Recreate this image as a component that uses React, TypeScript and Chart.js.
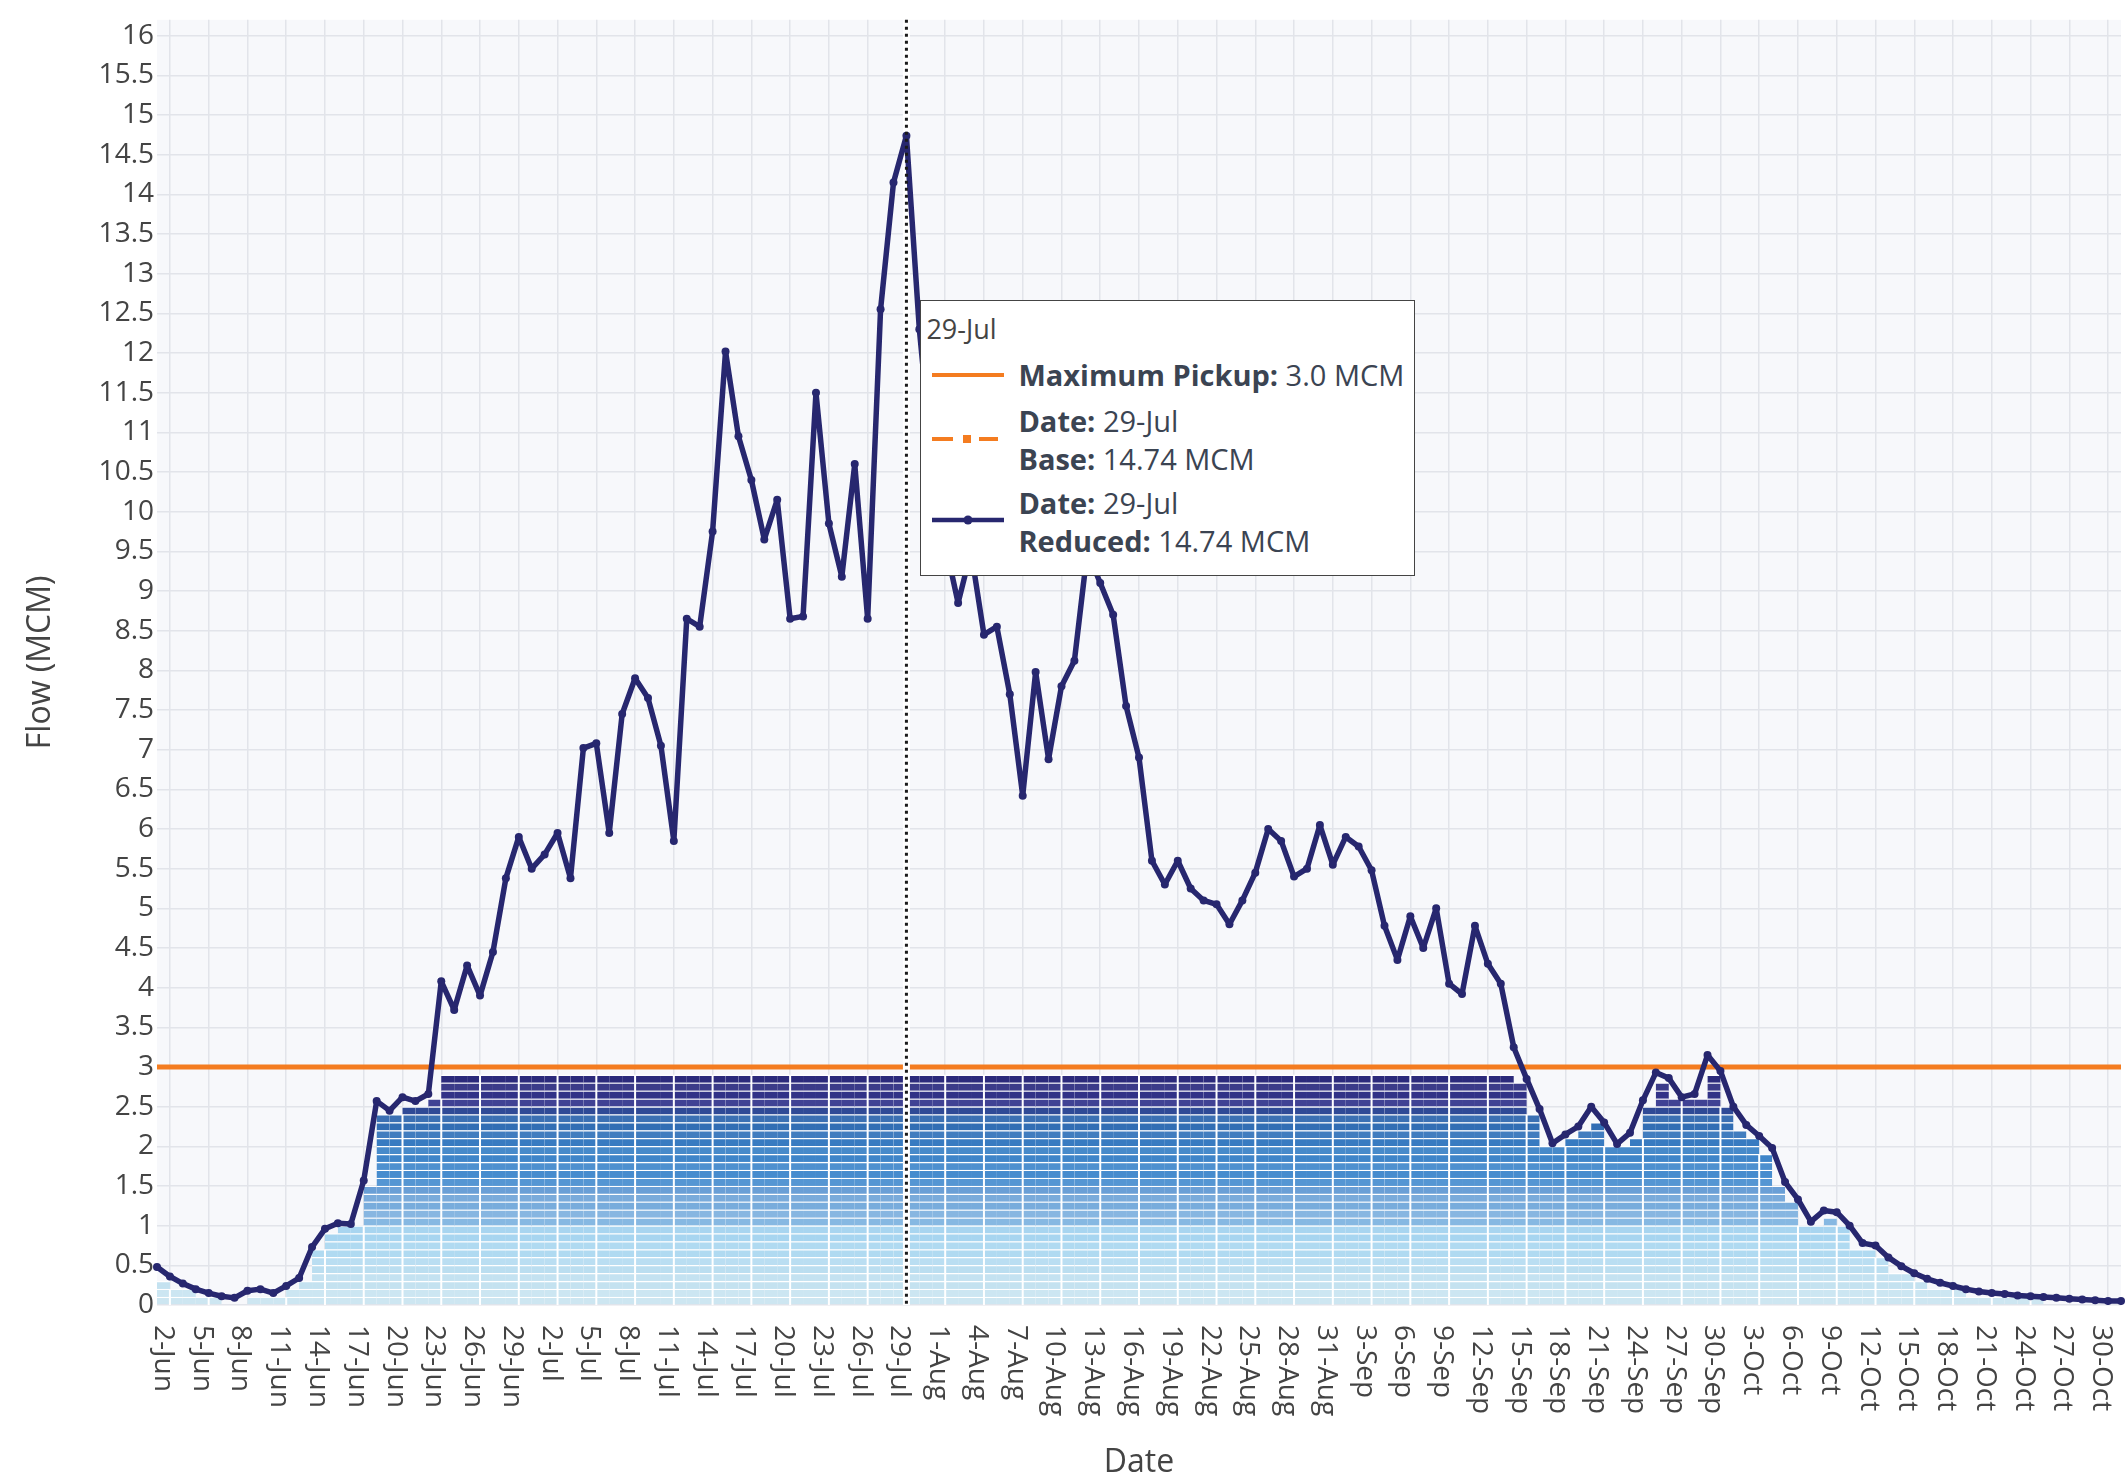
import React, { useEffect, useRef } from 'react';
import { Chart, registerables } from 'chart.js';

Chart.register(...registerables);

// ---------- DATA ----------
const months: [string, number][] = [
  ['Jun', 30],
  ['Jul', 31],
  ['Aug', 31],
  ['Sep', 30],
  ['Oct', 31],
];
const dates: string[] = [];
for (const [m, n] of months) for (let d = 1; d <= n; d++) dates.push(`${d}-${m}`);
// daily intervals used by the pickup bars (start date of each interval)
const intervalLabels: string[] = dates.slice(0, -1);

// Reduced flow (MCM), 1-Jun .. 31-Oct
const reducedFlow: number[] = [
  0.48, 0.36, 0.27, 0.2, 0.15, 0.11, 0.09, 0.18, 0.2, 0.15,
  0.24, 0.34, 0.73, 0.96, 1.03, 1.02, 1.57, 2.57, 2.45, 2.62,
  2.57, 2.66, 4.08, 3.72, 4.28, 3.9, 4.45, 5.38, 5.9, 5.5,
  5.68, 5.95, 5.38, 7.02, 7.08, 5.95, 7.45, 7.9, 7.65, 7.05,
  5.85, 8.65, 8.55, 9.75, 12.02, 10.95, 10.4, 9.65, 10.15, 8.65,
  8.68, 11.5, 9.85, 9.18, 10.6, 8.65, 12.55, 14.15, 14.74, 12.3,
  10.6, 9.6, 8.85, 9.5, 8.45, 8.55, 7.7, 6.42, 7.98, 6.88,
  7.8, 8.12, 9.5, 9.1, 8.7, 7.55, 6.9, 5.6, 5.3, 5.6,
  5.25, 5.1, 5.05, 4.8, 5.1, 5.45, 6.0, 5.85, 5.4, 5.5,
  6.05, 5.55, 5.9, 5.78, 5.48, 4.78, 4.35, 4.9, 4.5, 5.0,
  4.05, 3.92, 4.78, 4.3, 4.05, 3.25, 2.85, 2.47, 2.04, 2.15,
  2.25, 2.5, 2.3, 2.03, 2.17, 2.58, 2.93, 2.86, 2.62, 2.66,
  3.15, 2.95, 2.5, 2.27, 2.13, 1.98, 1.55, 1.33, 1.05, 1.19,
  1.17, 1.0, 0.78, 0.75, 0.6, 0.49, 0.4, 0.33, 0.28, 0.24,
  0.2, 0.17, 0.15, 0.14, 0.12, 0.11, 0.1, 0.09, 0.08, 0.07,
  0.06, 0.05, 0.05,
];
// Base flow coincides with the reduced flow on this chart
const baseFlow: number[] = [...reducedFlow];

const maxPickup = 3.0;

// Pickup volume per daily interval (MCM), drawn as 0.1 MCM blocks
const pickupLevels: number[] = [
  0.3, 0.2, 0.2, 0.1, 0.1, 0, 0, 0.1, 0.1, 0.1,
  0.2, 0.3, 0.7, 0.9, 1.0, 1.0, 1.5, 2.4, 2.4, 2.5,
  2.5, 2.6, 2.9, 2.9, 2.9, 2.9, 2.9, 2.9, 2.9, 2.9,
  2.9, 2.9, 2.9, 2.9, 2.9, 2.9, 2.9, 2.9, 2.9, 2.9,
  2.9, 2.9, 2.9, 2.9, 2.9, 2.9, 2.9, 2.9, 2.9, 2.9,
  2.9, 2.9, 2.9, 2.9, 2.9, 2.9, 2.9, 2.9, 2.9, 2.9,
  2.9, 2.9, 2.9, 2.9, 2.9, 2.9, 2.9, 2.9, 2.9, 2.9,
  2.9, 2.9, 2.9, 2.9, 2.9, 2.9, 2.9, 2.9, 2.9, 2.9,
  2.9, 2.9, 2.9, 2.9, 2.9, 2.9, 2.9, 2.9, 2.9, 2.9,
  2.9, 2.9, 2.9, 2.9, 2.9, 2.9, 2.9, 2.9, 2.9, 2.9,
  2.9, 2.9, 2.9, 2.9, 2.9, 2.8, 2.4, 2.0, 2.0, 2.1,
  2.2, 2.3, 2.0, 2.0, 2.1, 2.5, 2.8, 2.6, 2.6, 2.6,
  2.9, 2.5, 2.2, 2.1, 1.9, 1.5, 1.3, 1.0, 1.0, 1.1,
  1.0, 0.7, 0.7, 0.6, 0.4, 0.4, 0.3, 0.2, 0.2, 0.2,
  0.1, 0.1, 0.1, 0.1, 0.1, 0.1, 0, 0, 0, 0,
  0, 0,
];
const blockSize = 0.1;
const blockCount = 29;

const yTickStep = 0.5;
const yMax = 16.2;
const hoverDate = '29-Jul';

// ---------- STYLE ----------
const FONT = "'Open Sans', sans-serif";
const NAVY = '#27276f';
const ORANGE = '#f47c20';
const GRID = '#e2e4ea';
const PLOT_BG = '#f7f8fb';
const TEXT = '#444';

const SEG_ANCHORS: [number, string][] = [
  [0, '#cde6f1'],
  [3, '#c0e0f0'],
  [6, '#b0daf1'],
  [9, '#a2d2ef'],
  [10, '#86b8e2'],
  [14, '#6a9fd6'],
  [15, '#4a8fd0'],
  [19, '#3b82c7'],
  [23, '#2f67ae'],
  [24, '#2f4a96'],
  [25, '#34368d'],
  [28, '#2b2a7b'],
];
function hexRgb(h: string): number[] {
  const v = parseInt(h.slice(1), 16);
  return [(v >> 16) & 255, (v >> 8) & 255, v & 255];
}
function segColor(k: number): string {
  let a = SEG_ANCHORS[0];
  let b = SEG_ANCHORS[SEG_ANCHORS.length - 1];
  for (let i = 0; i < SEG_ANCHORS.length - 1; i++) {
    if (k >= SEG_ANCHORS[i][0] && k <= SEG_ANCHORS[i + 1][0]) {
      a = SEG_ANCHORS[i];
      b = SEG_ANCHORS[i + 1];
      break;
    }
  }
  const t = b[0] === a[0] ? 0 : (k - a[0]) / (b[0] - a[0]);
  const ca = hexRgb(a[1]);
  const cb = hexRgb(b[1]);
  let c = ca.map((v, i) => v + (cb[i] - v) * t);
  if (k % 2 === 1) c = c.map((v) => v + (255 - v) * 0.06);
  return `rgb(${c.map((v) => Math.round(v)).join(',')})`;
}

const hoverIdx = dates.indexOf(hoverDate);

export default function App() {
  const canvasRef = useRef<HTMLCanvasElement | null>(null);
  const tipRef = useRef<HTMLDivElement | null>(null);

  useEffect(() => {
    const canvas = canvasRef.current;
    if (!canvas) return;

    const barDatasets: any[] = [];
    for (let k = 0; k < blockCount; k++) {
      barDatasets.push({
        type: 'bar',
        label: `block${k}`,
        data: pickupLevels.map((L) =>
          L >= (k + 1) * blockSize - 1e-6 ? [k * blockSize, (k + 1) * blockSize] : null
        ),
        xAxisID: 'x2',
        yAxisID: 'y',
        backgroundColor: segColor(k),
        borderColor: '#ffffff',
        borderWidth: { top: 1.3, right: 0, bottom: 0, left: 0 },
        borderSkipped: false,
        grouped: false,
        barPercentage: 1,
        categoryPercentage: 1,
        order: 10,
      });
    }
    const firstBarIndex = 3;

    const plotBg = {
      id: 'plotBg',
      beforeDraw(chart: any) {
        const { ctx, chartArea: a } = chart;
        ctx.save();
        ctx.fillStyle = PLOT_BG;
        ctx.fillRect(a.left, a.top, a.right - a.left, a.bottom - a.top);
        ctx.restore();
      },
    };

    const overlays = {
      id: 'overlays',
      afterDatasetDraw(chart: any, args: any) {
        const { ctx, chartArea: a } = chart;
        const xs = chart.scales.x;
        const ys = chart.scales.y;
        if (args.index === firstBarIndex) {
          ctx.save();
          ctx.beginPath();
          ctx.rect(a.left, a.top, a.right - a.left, a.bottom - a.top);
          ctx.clip();
          ctx.strokeStyle = '#ffffff';
          ctx.lineWidth = 2;
          for (let i = 1; i < pickupLevels.length; i++) {
            if (i % 3 !== 1) continue;
            const h = Math.min(pickupLevels[i - 1], pickupLevels[i]);
            if (h <= 0) continue;
            const x = xs.getPixelForValue(i);
            ctx.beginPath();
            ctx.moveTo(x, a.bottom);
            ctx.lineTo(x, ys.getPixelForValue(h));
            ctx.stroke();
          }
          ctx.restore();
        }
        if (args.index === 2) {
          const x = xs.getPixelForValue(hoverIdx);
          ctx.save();
          ctx.strokeStyle = '#ffffff';
          ctx.lineWidth = 7;
          ctx.beginPath();
          ctx.moveTo(x, a.top);
          ctx.lineTo(x, a.bottom);
          ctx.stroke();
          ctx.restore();
        }
      },
      afterDatasetsDraw(chart: any) {
        const { ctx, chartArea: a } = chart;
        const x = chart.scales.x.getPixelForValue(hoverIdx);
        ctx.save();
        ctx.strokeStyle = '#1a1a1a';
        ctx.lineWidth = 3;
        ctx.setLineDash([3, 4]);
        ctx.beginPath();
        ctx.moveTo(x, a.top);
        ctx.lineTo(x, a.bottom);
        ctx.stroke();
        ctx.restore();
      },
      afterDraw(chart: any) {
        const { ctx, chartArea: a } = chart;
        const xs = chart.scales.x;
        ctx.save();
        ctx.font = `28px ${FONT}`;
        ctx.fillStyle = TEXT;
        ctx.textAlign = 'left';
        ctx.textBaseline = 'alphabetic';
        dates.forEach((lab, i) => {
          if (i % 3 !== 1) return;
          const x = xs.getPixelForValue(i);
          ctx.save();
          ctx.translate(x - 15, a.bottom + 20);
          ctx.rotate(Math.PI / 2);
          ctx.fillText(lab, 0, 0);
          ctx.restore();
        });
        ctx.restore();
      },
    };

    const chart = new Chart(canvas, {
      type: 'line',
      data: {
        labels: dates,
        datasets: [
          {
            type: 'line',
            label: 'Reduced',
            data: reducedFlow,
            xAxisID: 'x',
            yAxisID: 'y',
            borderColor: NAVY,
            backgroundColor: NAVY,
            borderWidth: 5.5,
            borderJoinStyle: 'round',
            borderCapStyle: 'round',
            pointRadius: 4,
            pointHoverRadius: 4,
            pointBorderWidth: 0,
            pointBackgroundColor: NAVY,
            tension: 0,
            order: 0,
          } as any,
          {
            type: 'line',
            label: 'Base',
            data: baseFlow,
            xAxisID: 'x',
            yAxisID: 'y',
            borderColor: ORANGE,
            borderWidth: 3,
            borderDash: [9, 4, 3, 4],
            borderJoinStyle: 'round',
            pointRadius: 0,
            tension: 0,
            order: 1,
          } as any,
          {
            type: 'line',
            label: 'Maximum Pickup',
            data: [
              { x: dates[0], y: maxPickup },
              { x: dates[dates.length - 1], y: maxPickup },
            ],
            xAxisID: 'x',
            yAxisID: 'y',
            borderColor: ORANGE,
            borderWidth: 5,
            pointRadius: 0,
            order: 2,
          } as any,
          ...barDatasets,
        ],
      },
      options: {
        animation: false,
        responsive: false,
        devicePixelRatio: 1,
        events: [],
        layout: { padding: { top: 11, right: 2, bottom: 0, left: 0 } },
        plugins: {
          legend: { display: false },
          tooltip: { enabled: false },
        },
        scales: {
          x: {
            type: 'category',
            offset: false,
            grid: {
              color: (c: any) => (c.index % 3 === 1 ? GRID : 'rgba(0,0,0,0)'),
              lineWidth: 1.5,
              offset: false,
              drawTicks: false,
            },
            border: { display: false },
            ticks: { display: false, autoSkip: false },
            title: {
              display: true,
              text: 'Date',
              color: TEXT,
              font: { family: FONT, size: 32, lineHeight: 1 },
              padding: { top: 0, bottom: 2 },
            },
            afterFit: (s: any) => {
              s.height = 176;
            },
          },
          x2: {
            type: 'category',
            labels: intervalLabels,
            offset: true,
            display: false,
            grid: { display: false },
          },
          y: {
            type: 'linear',
            min: 0,
            max: yMax,
            grid: { color: GRID, lineWidth: 1.5, drawTicks: false },
            border: { display: false },
            ticks: {
              stepSize: yTickStep,
              includeBounds: false,
              autoSkip: false,
              padding: 3,
              color: TEXT,
              font: { family: FONT, size: 28 },
              callback: (v: any) => {
                const n = Number(v);
                return Number.isInteger(n) ? String(n) : n.toFixed(1);
              },
            },
            title: {
              display: true,
              text: 'Flow (MCM)',
              color: TEXT,
              font: { family: FONT, size: 32, lineHeight: 1 },
              padding: { top: 25, bottom: 0 },
            },
            afterFit: (s: any) => {
              s.width = 157;
            },
          },
        },
      } as any,
      plugins: [plotBg, overlays],
    });

    const tip = tipRef.current;
    if (tip) {
      const xp = chart.scales.x.getPixelForValue(hoverIdx);
      const yp = chart.scales.y.getPixelForValue(12.67);
      tip.style.left = `${xp + 14}px`;
      tip.style.top = `${yp}px`;
      tip.style.display = 'block';
    }

    return () => {
      chart.destroy();
    };
  }, []);

  const rowText: React.CSSProperties = {
    position: 'absolute',
    left: 97,
    lineHeight: '38px',
    whiteSpace: 'nowrap',
  };

  return (
    <div
      style={{
        position: 'fixed',
        left: 0,
        top: 0,
        width: 2125,
        height: 1481,
        background: '#ffffff',
        overflow: 'hidden',
      }}
    >
      <canvas ref={canvasRef} width={2125} height={1481} style={{ display: 'block' }} />
      <div
        ref={tipRef}
        style={{
          position: 'absolute',
          display: 'none',
          width: 495,
          height: 276,
          boxSizing: 'border-box',
          border: '1.5px solid #444',
          background: '#ffffff',
          fontFamily: FONT,
          fontSize: 29,
          color: '#3b4452',
          zIndex: 2,
        }}
      >
        <div style={{ position: 'absolute', left: 5, top: 9, lineHeight: '38px', fontSize: 27, color: TEXT }}>
          {hoverDate}
        </div>

        <svg style={{ position: 'absolute', left: 11, top: 64 }} width={74} height={20}>
          <line x1={0} y1={10} x2={72} y2={10} stroke={ORANGE} strokeWidth={4} />
        </svg>
        <div style={{ ...rowText, top: 55 }}>
          <b>Maximum Pickup:</b> {maxPickup.toFixed(1)} MCM
        </div>

        <svg style={{ position: 'absolute', left: 11, top: 128 }} width={74} height={20}>
          <line x1={0} y1={10} x2={21} y2={10} stroke={ORANGE} strokeWidth={4} />
          <rect x={31} y={6} width={8} height={8} fill={ORANGE} />
          <line x1={47} y1={10} x2={66} y2={10} stroke={ORANGE} strokeWidth={4} />
        </svg>
        <div style={{ ...rowText, top: 101 }}>
          <b>Date:</b> {hoverDate}
          <br />
          <b>Base:</b> {baseFlow[hoverIdx].toFixed(2)} MCM
        </div>

        <svg style={{ position: 'absolute', left: 11, top: 209 }} width={74} height={20}>
          <line x1={0} y1={10} x2={72} y2={10} stroke={NAVY} strokeWidth={4.5} />
          <circle cx={36} cy={10} r={4.5} fill={NAVY} />
        </svg>
        <div style={{ ...rowText, top: 183 }}>
          <b>Date:</b> {hoverDate}
          <br />
          <b>Reduced:</b> {reducedFlow[hoverIdx].toFixed(2)} MCM
        </div>
      </div>
    </div>
  );
}
